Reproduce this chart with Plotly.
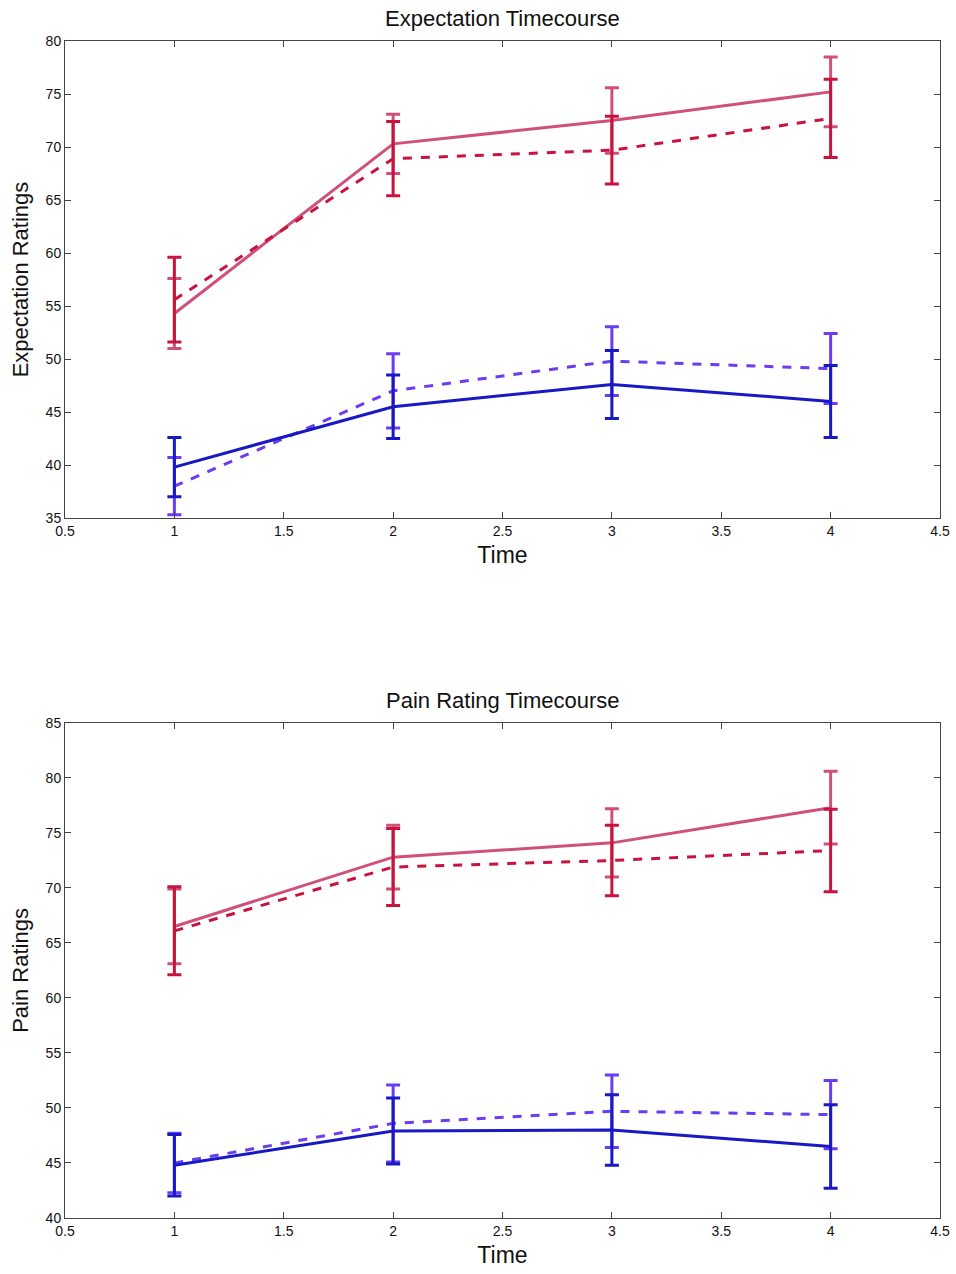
import plotly.graph_objects as go

time = [1, 2, 3, 4]

# Expectation ratings (top panel)
exp_pink_mean = [54.3, 70.3, 72.5, 75.2]
exp_pink_err = [3.3, 2.8, 3.1, 3.3]
exp_red_mean = [55.6, 68.9, 69.7, 72.7]
exp_red_err = [4.0, 3.5, 3.2, 3.7]
exp_blue_mean = [39.8, 45.5, 47.6, 46.0]
exp_blue_err = [2.8, 3.0, 3.2, 3.4]
exp_purple_mean = [38.0, 47.0, 49.8, 49.1]
exp_purple_err = [2.7, 3.5, 3.25, 3.3]

# Pain ratings (bottom panel)
pain_pink_mean = [66.5, 72.8, 74.1, 77.3]
pain_pink_err = [3.4, 2.9, 3.1, 3.3]
pain_red_mean = [66.1, 71.9, 72.5, 73.4]
pain_red_err = [4.0, 3.5, 3.2, 3.75]
pain_blue_mean = [44.8, 47.9, 48.0, 46.5]
pain_blue_err = [2.8, 3.0, 3.2, 3.8]
pain_purple_mean = [45.0, 48.6, 49.7, 49.4]
pain_purple_err = [2.7, 3.5, 3.3, 3.1]

x_ticks = [0.5, 1, 1.5, 2, 2.5, 3, 3.5, 4, 4.5]
exp_y_ticks = [35, 40, 45, 50, 55, 60, 65, 70, 75, 80]
pain_y_ticks = [40, 45, 50, 55, 60, 65, 70, 75, 80, 85]

PINK = "#D0507C"
RED = "#C8143C"
BLUE = "#1818C4"
PURPLE = "#6A3CF2"

FONT = "Liberation Sans, Arial, Helvetica, sans-serif"

fig = go.Figure()


def add_series(mean, err, color, dash, xa, ya):
    fig.add_trace(go.Scatter(
        x=time, y=mean, mode="lines",
        line=dict(color=color, width=3, dash=dash),
        error_y=dict(type="data", array=err, visible=True, color=color,
                     thickness=3, width=7),
        xaxis=xa, yaxis=ya, showlegend=False, hoverinfo="x+y",
    ))


for (m, e, c, d) in [
    (exp_pink_mean, exp_pink_err, PINK, "solid"),
    (exp_red_mean, exp_red_err, RED, "dash"),
    (exp_purple_mean, exp_purple_err, PURPLE, "dash"),
    (exp_blue_mean, exp_blue_err, BLUE, "solid"),
]:
    add_series(m, e, c, d, "x", "y")

for (m, e, c, d) in [
    (pain_pink_mean, pain_pink_err, PINK, "solid"),
    (pain_red_mean, pain_red_err, RED, "dash"),
    (pain_purple_mean, pain_purple_err, PURPLE, "dash"),
    (pain_blue_mean, pain_blue_err, BLUE, "solid"),
]:
    add_series(m, e, c, d, "x2", "y2")

axis_common = dict(
    showline=True, linecolor="#444", linewidth=1, mirror="allticks",
    ticks="inside", ticklen=6, tickcolor="#444", showgrid=False,
    zeroline=False, automargin=False,
    tickfont=dict(family=FONT, size=14, color="#111"),
)

fig.update_layout(
    width=956, height=1274,
    margin=dict(l=65, r=16, t=41, b=56),
    paper_bgcolor="white", plot_bgcolor="white",
    font=dict(family=FONT, color="#111"),
    xaxis=dict(domain=[0, 1], anchor="y", range=[0.5, 4.5], tickvals=x_ticks,
               ticktext=[f"{v:g}" for v in x_ticks],
               title=dict(text="Time", font=dict(family=FONT, size=23), standoff=9),
               **axis_common),
    yaxis=dict(domain=[0.5947, 1], anchor="x", range=[35, 80], tickvals=exp_y_ticks,
               title=dict(text="Expectation Ratings", font=dict(family=FONT, size=22), standoff=10),
               **axis_common),
    xaxis2=dict(domain=[0, 1], anchor="y2", range=[0.5, 4.5], tickvals=x_ticks,
                ticktext=[f"{v:g}" for v in x_ticks],
                title=dict(text="Time", font=dict(family=FONT, size=23), standoff=9),
                **axis_common),
    yaxis2=dict(domain=[0, 0.4206], anchor="x2", range=[40, 85], tickvals=pain_y_ticks,
                title=dict(text="Pain Ratings", font=dict(family=FONT, size=22), standoff=10),
                **axis_common),
    annotations=[
        dict(text="Expectation Timecourse", x=0.5, y=1, xref="paper", yref="paper",
             xanchor="center", yanchor="bottom", yshift=8, showarrow=False,
             font=dict(family=FONT, size=22, color="#111")),
        dict(text="Pain Rating Timecourse", x=0.5, y=0.4206, xref="paper", yref="paper",
             xanchor="center", yanchor="bottom", yshift=8, showarrow=False,
             font=dict(family=FONT, size=22, color="#111")),
    ],
)

fig.write_html("out.html")
